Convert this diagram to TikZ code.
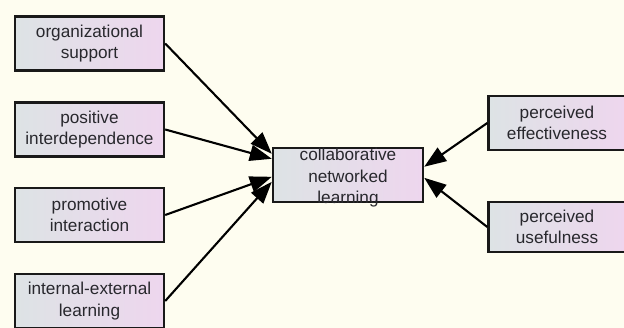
\documentclass[tikz,border=0pt]{standalone}
\usepackage{fontspec}
\setmainfont{Liberation Sans}
\usepackage{xcolor}
\usepackage{tikz}
\usetikzlibrary{positioning}
\usetikzlibrary{calc,arrows.meta}

\definecolor{PaperCream}{RGB}{254,253,240}
\definecolor{BoxLeft}{RGB}{221,227,229}
\definecolor{BoxRight}{RGB}{238,214,238}
\definecolor{InkGrey}{RGB}{40,40,45}

\tikzset{
	construct/.style={draw=black!90, line width=2.4pt, left color=BoxLeft, right color=BoxRight,
		minimum width=149pt, minimum height=54pt, inner sep=0pt},
	caption/.style={align=center, text=InkGrey, font=\fontsize{17.2}{21.5}\selectfont},
	path/.style={line width=2.1pt, -{Triangle[length=22pt,width=16pt]}},
}

\begin{document}
\begin{tikzpicture}[x=1pt,y=-1pt]
		
		% ---------------------
		% Proper size --- Bounding box
		\useasboundingbox (0,0) rectangle (624,328);
		\fill[PaperCream] (0,0) rectangle (624,328);
		
		% ---------------------
		% Antecedents (left column)
		
		\node[construct] (OrgSupport) at (89.5,43.5) {};
		\node[construct] (PosInterdep) at (89.5,129.5) {};
		\node[construct] (PromInter) at (89.5,215) {};
		\node[construct] (IntExtLearn) at (89.5,301) {};
		
		\node[caption] (OrgSupportT) at (OrgSupport) {organizational\\support};
		\node[caption] (PosInterdepT) at (PosInterdep) {positive\\interdependence};
		\node[caption] (PromInterT) at (PromInter) {promotive\\interaction};
		\node[caption] (IntExtLearnT) at (IntExtLearn) {internal-external\\learning};
		
		% ---------------------
		% Central construct
		
		\node[construct, minimum width=150pt] (CNL) at (348,175) {};
		\node[caption, below=-2pt of CNL.north] (CNLT) {collaborative\\networked\\learning};
		
		\path (CNL.north west) +(0,7) coordinate (In1);
		\path (CNL.north west) +(0,12) coordinate (In2);
		\path (CNL.north west) +(0,30) coordinate (In3);
		\path (CNL.north west) +(0,35) coordinate (In4);
		\path (CNL.north east) +(0,20) coordinate (In5);
		\path (CNL.north east) +(0,31) coordinate (In6);
		
		% ---------------------
		% Outcomes (right column)
		
		\node[construct, minimum width=137pt] (PercEff) at (557,123) {};
		\node[construct, minimum width=137pt, minimum height=50pt] (PercUse) at (557,227) {};
		
		\node[caption] (PercEffT) at (PercEff) {perceived\\effectiveness};
		\node[caption] (PercUseT) at (PercUse) {perceived\\usefulness};
		
		% ---------------------
		\draw[path] (OrgSupport.east) -- (In1);
		\draw[path] (PosInterdep.east) -- (In2);
		\draw[path] (PromInter.east) -- (In3);
		\draw[path] (IntExtLearn.east) -- (In4);
		
		\draw[path] (PercEff.west) -- (In5);
		\draw[path] (PercUse.west) -- (In6);
		
\end{tikzpicture}
\end{document}
